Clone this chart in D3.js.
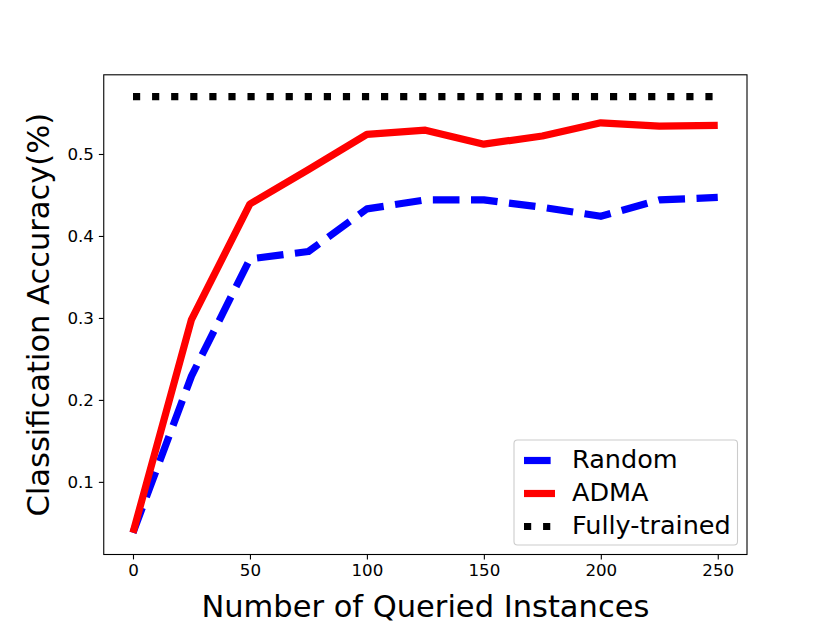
<!DOCTYPE html>
<html>
<head>
<meta charset="utf-8">
<script src="https://cdn.jsdelivr.net/npm/d3@7"></script>
<style>
  body { margin: 0; background: white; }
  svg { display: block; }
  text { font-family: "DejaVu Sans", sans-serif; }
</style>
</head>
<body>
<div id="chart"></div>
<script>
// data
const queried = [0, 25, 50, 75, 100, 125, 150, 175, 200, 225, 250]
const randomAcc = [0.038, 0.229, 0.372, 0.381, 0.433, 0.444, 0.444, 0.435, 0.424, 0.444, 0.447]
const admaAcc = [0.038, 0.298, 0.439, 0.481, 0.524, 0.529, 0.512, 0.522, 0.538, 0.534, 0.535]
const fullAcc = [0.57, 0.57, 0.57, 0.57, 0.57, 0.57, 0.57, 0.57, 0.57, 0.57, 0.57]
const seriesNames = ["Random", "ADMA", "Fully-trained"]
const xTicks = [0, 50, 100, 150, 200, 250]
const yTicks = [0.1, 0.2, 0.3, 0.4, 0.5]

const width = 830
const height = 623
const plot = { left: 103.75, right: 747, top: 74.8, bottom: 554.5 }
const lw = 7.2

const svg = d3.select("#chart").append("svg")
    .attr("width", width)
    .attr("height", height)

// matplotlib-style 5% margins around the data
const xExt = d3.extent(queried)
const xPad = (xExt[1] - xExt[0]) * 0.05
const x = d3.scaleLinear()
    .domain([xExt[0] - xPad, xExt[1] + xPad])
    .range([plot.left, plot.right])

const allY = randomAcc.concat(admaAcc, fullAcc)
const yExt = d3.extent(allY)
const yPad = (yExt[1] - yExt[0]) * 0.05
const y = d3.scaleLinear()
    .domain([yExt[0] - yPad, yExt[1] + yPad])
    .range([plot.bottom, plot.top])

const line = d3.line()
    .x((d, i) => x(queried[i]))
    .y(d => y(d))

const series = [
    { name: seriesNames[0], values: randomAcc, color: "#0000ff", dash: (3.7 * lw) + "," + (1.6 * lw) },
    { name: seriesNames[1], values: admaAcc, color: "#ff0000", dash: null },
    { name: seriesNames[2], values: fullAcc, color: "#000000", dash: lw + "," + (1.65 * lw) }
]

const clip = svg.append("defs").append("clipPath").attr("id", "plotClip")
clip.append("rect")
    .attr("x", plot.left)
    .attr("y", plot.top)
    .attr("width", plot.right - plot.left)
    .attr("height", plot.bottom - plot.top)

const lines = svg.append("g").attr("clip-path", "url(#plotClip)")
series.forEach(s => {
    lines.append("path")
        .datum(s.values)
        .attr("d", line)
        .style("fill", "none")
        .style("stroke", s.color)
        .style("stroke-width", lw)
        .style("stroke-linejoin", "round")
        .style("stroke-linecap", "butt")
        .style("stroke-dasharray", s.dash)
})

// axes
svg.append("g")
    .attr("transform", "translate(0," + plot.bottom + ")")
    .call(d3.axisBottom(x).tickValues(xTicks).tickSize(4.9).tickPadding(4.9).tickFormat(d3.format("d")))

svg.append("g")
    .attr("transform", "translate(" + plot.left + ",0)")
    .call(d3.axisLeft(y).tickValues(yTicks).tickSize(4.9).tickPadding(4.9).tickFormat(d3.format(".1f")))

svg.selectAll(".domain").remove()
svg.selectAll(".tick line").style("stroke", "black").style("stroke-width", 1.1)
svg.selectAll(".tick text")
    .style("font-family", "DejaVu Sans")
    .style("font-size", "16.7px")
    .style("fill", "black")

// frame
svg.append("rect")
    .attr("x", plot.left)
    .attr("y", plot.top)
    .attr("width", plot.right - plot.left)
    .attr("height", plot.bottom - plot.top)
    .style("fill", "none")
    .style("stroke", "black")
    .style("stroke-width", 1.1)

// axis labels
svg.append("text")
    .attr("x", (plot.left + plot.right) / 2)
    .attr("y", 617)
    .attr("text-anchor", "middle")
    .style("font-size", "30.5px")
    .text("Number of Queried Instances")

svg.append("text")
    .attr("transform", "translate(48.5," + ((plot.top + plot.bottom) / 2) + ") rotate(-90)")
    .attr("text-anchor", "middle")
    .style("font-size", "30.5px")
    .text("Classification Accuracy(%)")

// legend
const legend = svg.append("g")
legend.append("rect")
    .attr("x", 514)
    .attr("y", 440)
    .attr("width", 223.5)
    .attr("height", 105)
    .attr("rx", 3.5)
    .style("fill", "white")
    .style("fill-opacity", 0.8)
    .style("stroke", "#cccccc")
    .style("stroke-width", 1.1)

series.forEach((s, i) => {
    const rowY = 459 + i * 33
    legend.append("line")
        .attr("x1", 524)
        .attr("x2", 555)
        .attr("y1", rowY + 1.5)
        .attr("y2", rowY + 1.5)
        .style("stroke", s.color)
        .style("stroke-width", lw)
        .style("stroke-linecap", "butt")
        .style("stroke-dasharray", s.dash)
    legend.append("text")
        .attr("x", 572)
        .attr("y", rowY)
        .attr("dy", "0.36em")
        .style("font-size", "25.5px")
        .text(s.name)
})
</script>
</body>
</html>
